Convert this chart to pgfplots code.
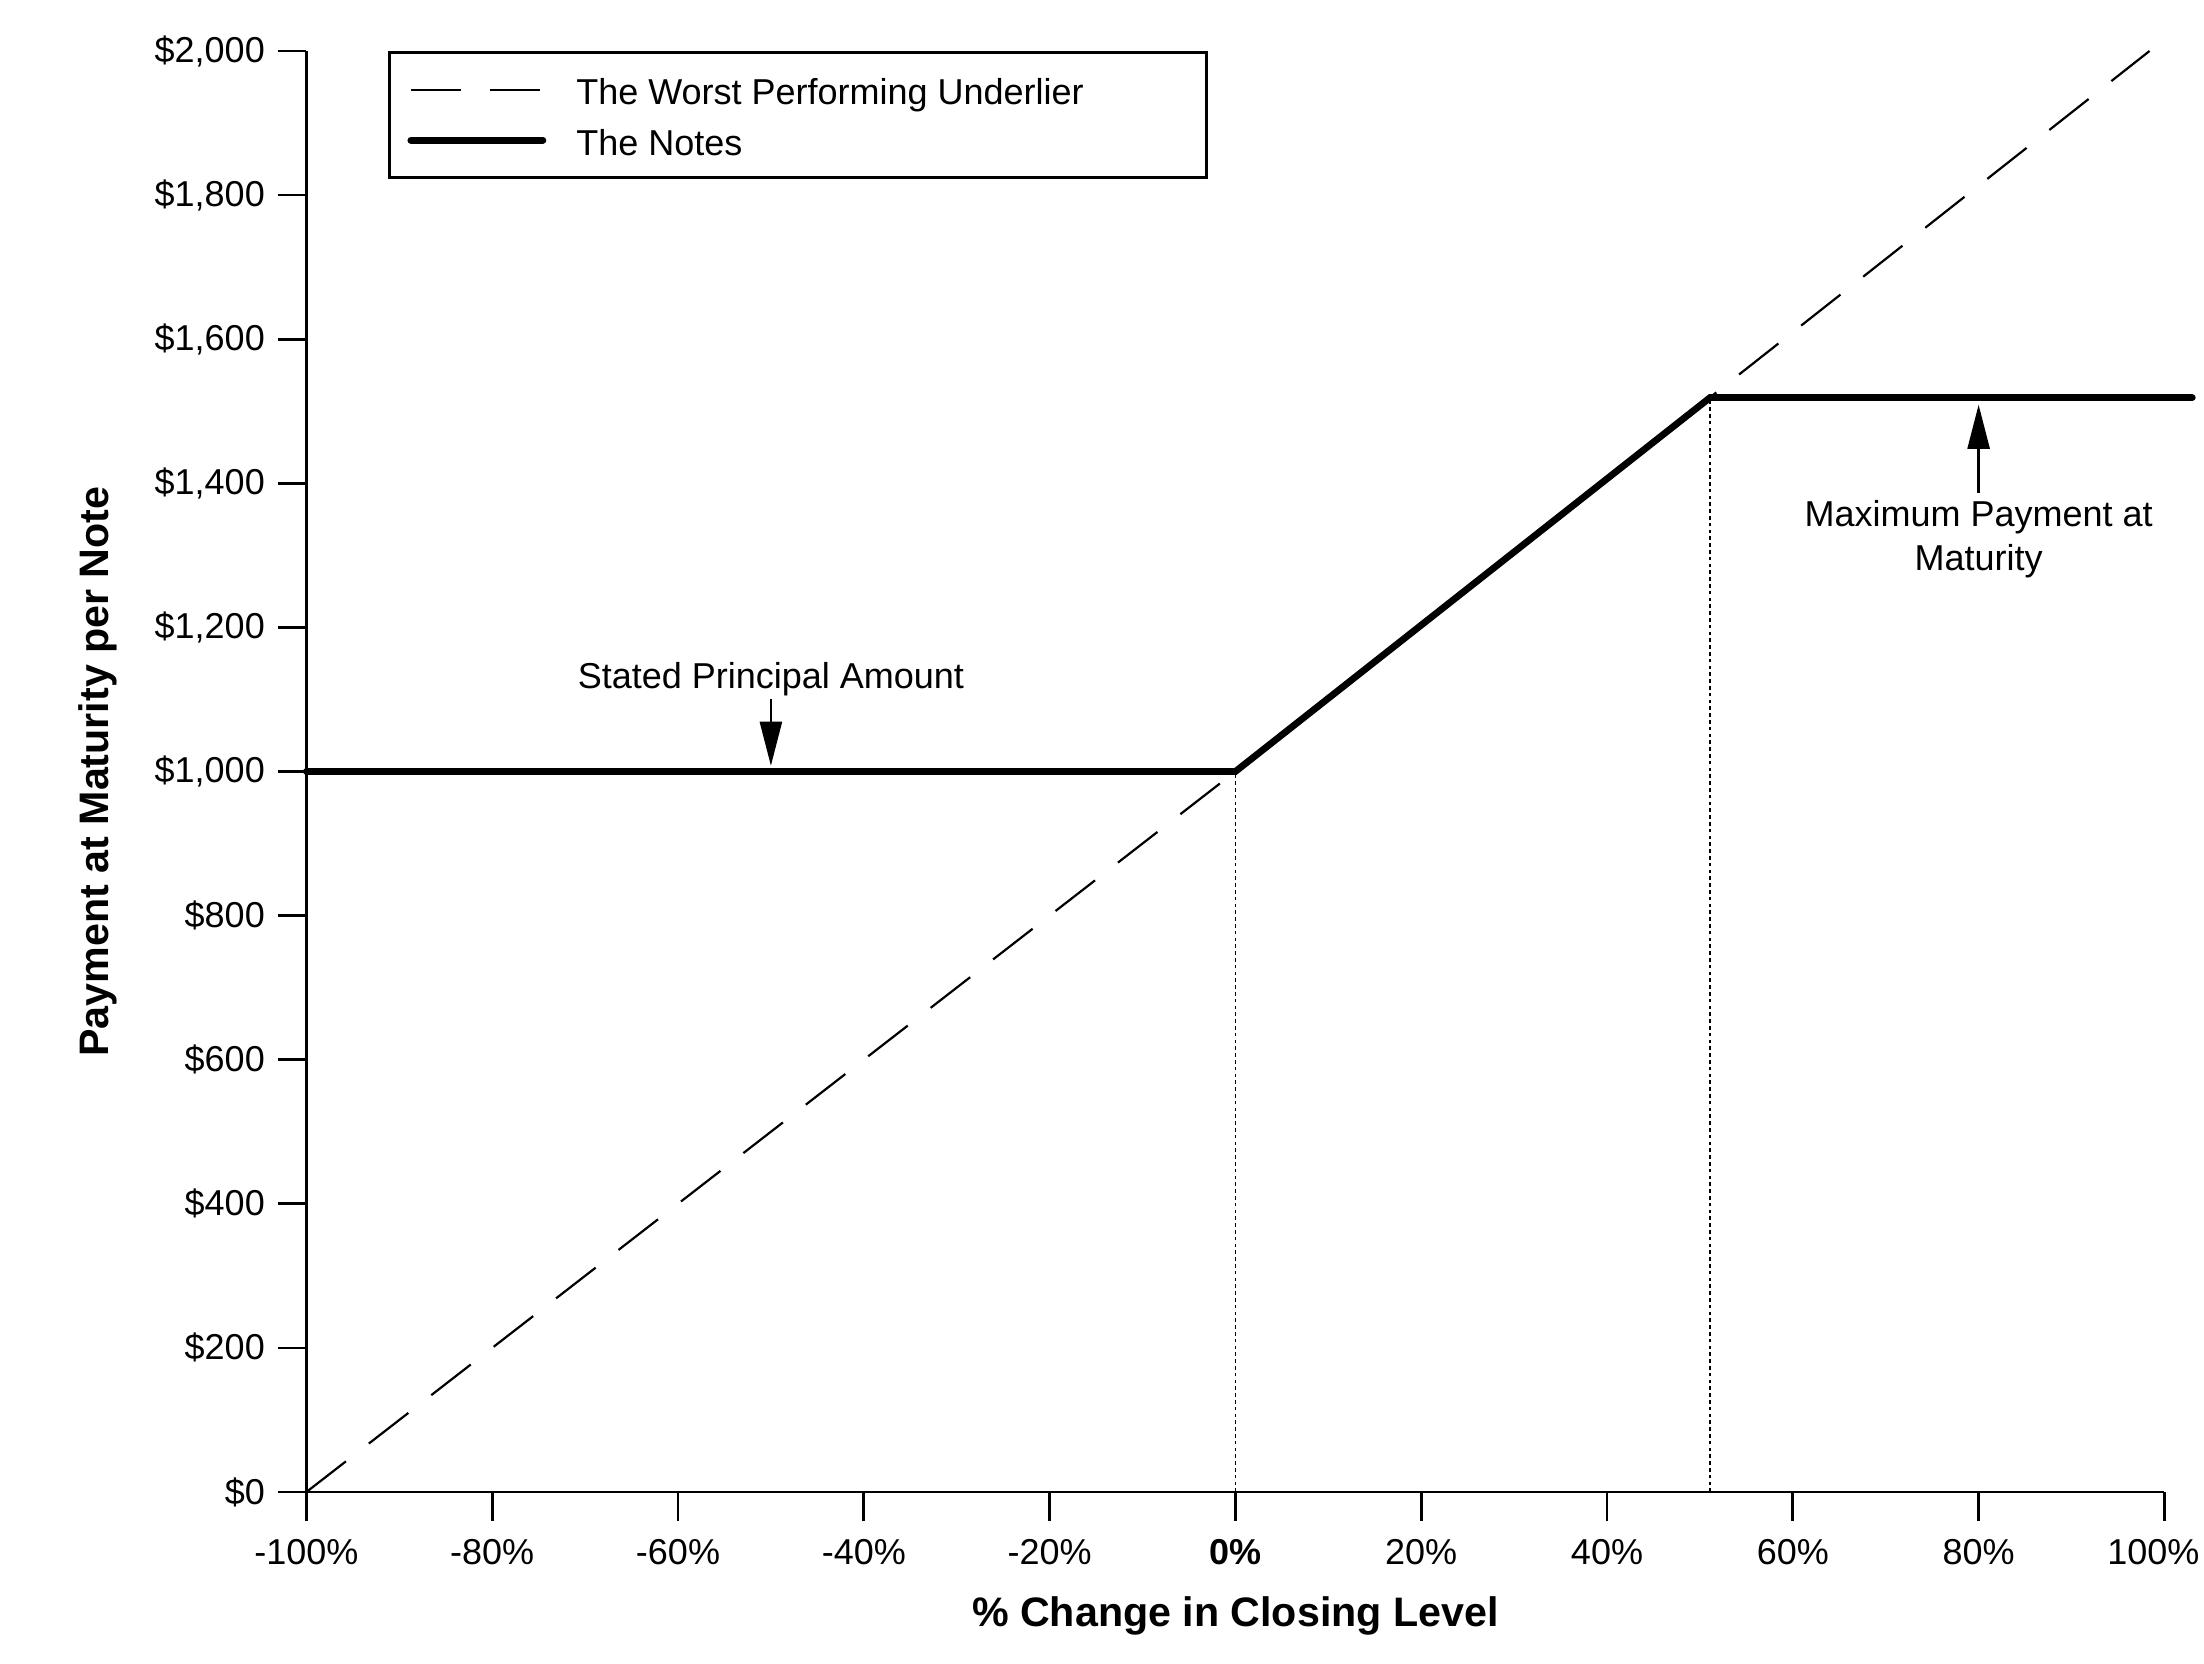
\documentclass[border=0pt]{standalone}
\usepackage{fontspec}
\setmainfont{Liberation Sans}
\usepackage{pgfplots}
\pgfplotsset{compat=1.18}
\usetikzlibrary{arrows.meta}
\begin{document}
\fontsize{9bp}{11bp}\selectfont
\begin{tikzpicture}
\useasboundingbox (-76.6bp,-43bp) rectangle (474.4bp,373bp);
\begin{axis}[
  at={(0,0)}, anchor=south west,
  scale only axis, width=464.5bp, height=360.25bp,
  xmin=-100, xmax=100, ymin=0, ymax=2000,
  clip=false,
  axis lines*=left,
  axis line style={line width=0.67bp, black},
  tick align=outside,
  major tick length=7.2bp,
  tick style={line width=0.67bp, black},
  xtick={-100,-80,...,100},
  xticklabels={-100\%,-80\%,-60\%,-40\%,-20\%,\textbf{0\%},20\%,40\%,60\%,80\%,\hspace*{-5.5bp}100\%},
  ytick={0,200,...,2000},
  yticklabels={\$0,\$200,\$400,\$600,\$800,{\$1,000},{\$1,200},{\$1,400},{\$1,600},{\$1,800},{\$2,000}},
  xticklabel style={yshift=-1.5bp},
  xlabel={\% Change in Closing Level},
  ylabel={Payment at Maturity per Note},
  label style={font=\bfseries\fontsize{10.3bp}{12bp}\selectfont},
  xlabel style={at={(axis description cs:0.5,-0.0861)}, anchor=center},
  ylabel style={at={(axis description cs:-0.1125,0.5)}, anchor=center},
  legend cell align=left,
  legend style={at={(axis cs:-91.2,2000)}, anchor=north west, draw=black,
    line width=0.67bp, inner xsep=4.5bp, inner ysep=4bp, row sep=2bp, column sep=7.5bp,
    nodes={inner xsep=0pt, inner ysep=0pt, text height=9.15bp, text depth=1.5bp, anchor=west,
      font=\fontsize{9bp}{11bp}\selectfont}},
  legend image code/.code={\draw[#1] (0bp,0bp) -- (33bp,0bp);},
]
\addplot[forget plot, black, line width=0.45bp, dash pattern=on 0.9bp off 0.8bp] coordinates {(0,0) (0,1000)};
\addplot[forget plot, black, line width=0.45bp, dash pattern=on 0.9bp off 0.8bp] coordinates {(51.1,0) (51.1,1519)};
\addplot[black, line width=0.55bp, dash pattern=on 12.5bp off 7.25bp] coordinates {(-100,0) (0,1000) (98.4,2000)};
\addlegendentry{\makebox[153bp][l]{The Worst Performing Underlier}}
\addplot[black, line width=1.7bp, line cap=round, line join=miter] coordinates {(-100,1000) (0,1000) (51.1,1519) (103,1519)};
\addlegendentry{\makebox[153bp][l]{The Notes}}
\node[align=center] at (axis cs:-50,1128) {Stated Principal Amount};
\draw[line width=0.6bp, -{Triangle[length=11bp,width=5.5bp]}] (axis cs:-50,1100) -- (axis cs:-50,1008);
\node[align=center] at (axis cs:80,1322) {Maximum Payment at\\Maturity};
\draw[line width=0.6bp, -{Triangle[length=11bp,width=5.5bp]}] (axis cs:80,1387) -- (axis cs:80,1509);
\end{axis}
\end{tikzpicture}
\end{document}
